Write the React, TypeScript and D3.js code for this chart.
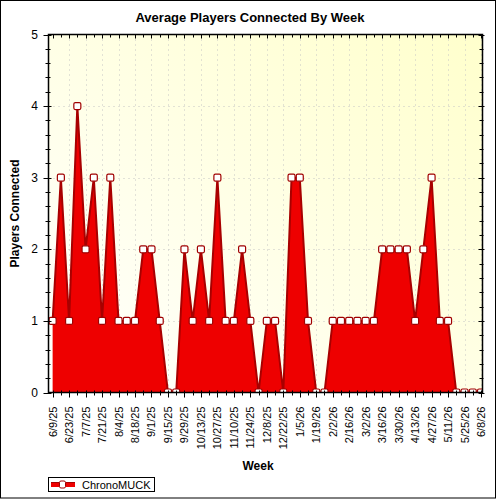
import React from "react";
import * as d3 from "d3";

// Week start dates (one point per week)
const weeks: string[] = [
  "6/9/25", "6/16/25", "6/23/25", "6/30/25", "7/7/25", "7/14/25", "7/21/25", "7/28/25",
  "8/4/25", "8/11/25", "8/18/25", "8/25/25", "9/1/25", "9/8/25", "9/15/25", "9/22/25",
  "9/29/25", "10/6/25", "10/13/25", "10/20/25", "10/27/25", "11/3/25", "11/10/25", "11/17/25",
  "11/24/25", "12/1/25", "12/8/25", "12/15/25", "12/22/25", "12/29/25", "1/5/26", "1/12/26",
  "1/19/26", "1/26/26", "2/2/26", "2/9/26", "2/16/26", "2/23/26", "3/2/26", "3/9/26",
  "3/16/26", "3/23/26", "3/30/26", "4/6/26", "4/13/26", "4/20/26", "4/27/26", "5/4/26",
  "5/11/26", "5/18/26", "5/25/26", "6/1/26", "6/8/26",
];

// Average players connected for each week
const players: number[] = [
  1, 3, 1, 4, 2, 3, 1, 3, 1, 1,
  1, 2, 2, 1, 0, 0, 2, 1, 2, 1,
  3, 1, 1, 2, 1, 0, 1, 1, 0, 3,
  3, 1, 0, 0, 1, 1, 1, 1, 1, 1,
  2, 2, 2, 2, 1, 2, 3, 1, 1, 0,
  0, 0, 0,
];

const yTicks: number[] = [0, 1, 2, 3, 4, 5];
const seriesName = "ChronoMUCK";
const title = "Average Players Connected By Week";
const xTitle = "Week";
const yTitle = "Players Connected";

const W = 500;
const H = 500;
const left = 48.5;
const right = 482.5;
const top = 34.5;
const bottom = 392.5;
const font = "'Liberation Sans', Arial, sans-serif";

export default function App() {
  const x = d3.scaleLinear().domain([-0.5, weeks.length - 1 + 0.18]).range([left, right]);
  const y = d3.scaleLinear().domain([0, 5]).range([bottom, top]);

  const data = players.map((v, i) => ({ i, v }));
  const area = d3
    .area<{ i: number; v: number }>()
    .x((d) => x(d.i))
    .y0(y(0))
    .y1((d) => y(d.v));
  const line = d3
    .line<{ i: number; v: number }>()
    .x((d) => x(d.i))
    .y((d) => y(d.v));

  const minorY = d3.range(0, 5.001, 0.2).filter((v) => Math.abs(v - Math.round(v)) > 1e-6);
  const labeled = weeks.map((w, i) => ({ w, i })).filter((d) => d.i % 2 === 0);

  return (
    <svg
      width={W}
      height={H}
      style={{ position: "absolute", left: 0, top: 0, background: "#fff" }}
      fontFamily={font}
    >
      <defs>
        <linearGradient id="plotBg" x1="0" y1="1" x2="1" y2="0">
          <stop offset="0" stopColor="#ffffff" />
          <stop offset="1" stopColor="#ffffcc" />
        </linearGradient>
        <clipPath id="plotClip">
          <rect x={left} y={top} width={right - left} height={bottom - top} />
        </clipPath>
      </defs>

      <rect x={0.5} y={0.5} width={495} height={497.5} fill="#fff" stroke="#000" />

      <text x={250} y={22} textAnchor="middle" fontSize={13} fontWeight="bold">
        {title}
      </text>

      <rect x={left} y={top} width={right - left} height={bottom - top} fill="url(#plotBg)" />

      {/* dotted grid */}
      <g stroke="#c4c4c4" strokeDasharray="1,4" strokeWidth={1}>
        {yTicks.slice(1, -1).map((t) => (
          <line key={"gy" + t} x1={left} x2={right} y1={Math.round(y(t)) + 0.5} y2={Math.round(y(t)) + 0.5} />
        ))}
        {labeled.slice(1).map((d) => (
          <line key={"gx" + d.i} x1={Math.round(x(d.i)) + 0.5} x2={Math.round(x(d.i)) + 0.5} y1={top} y2={bottom} />
        ))}
      </g>

      <g clipPath="url(#plotClip)">
        <path d={area(data) ?? ""} fill="#ee0000" />
        <path d={line(data) ?? ""} fill="none" stroke="#a80000" strokeWidth={2} strokeLinejoin="miter" />
        {data.map((d) => (
          <rect
            key={"m" + d.i}
            x={x(d.i) - 3.5}
            y={y(d.v) - 3.5}
            width={7}
            height={7}
            rx={1.5}
            fill="#fff"
            stroke="#a00000"
            strokeWidth={1.2}
          />
        ))}
      </g>

      {/* frame */}
      <rect x={left} y={top} width={right - left} height={bottom - top} fill="none" stroke="#000" strokeWidth={1.5} />

      {/* y ticks, left and right */}
      <g stroke="#000" strokeWidth={1}>
        {yTicks.map((t) => (
          <g key={"yt" + t}>
            <line x1={left - 5} x2={left + 3} y1={Math.round(y(t)) + 0.5} y2={Math.round(y(t)) + 0.5} />
            <line x1={right - 4} x2={right + 2} y1={Math.round(y(t)) + 0.5} y2={Math.round(y(t)) + 0.5} />
          </g>
        ))}
        {minorY.map((t) => (
          <g key={"ym" + t}>
            <line x1={left - 3} x2={left + 2} y1={Math.round(y(t)) + 0.5} y2={Math.round(y(t)) + 0.5} />
            <line x1={right - 3} x2={right + 1} y1={Math.round(y(t)) + 0.5} y2={Math.round(y(t)) + 0.5} />
          </g>
        ))}
        {weeks.map((w, i) => {
          const xx = Math.round(x(i)) + 0.5;
          const major = i % 2 === 0;
          return (
            <g key={"xt" + i}>
              <line x1={xx} x2={xx} y1={bottom - 2} y2={bottom + (major ? 5 : 3)} />
              <line x1={xx} x2={xx} y1={top} y2={top + (major ? 4 : 3)} />
            </g>
          );
        })}
      </g>

      {/* y tick labels */}
      {yTicks.map((t) => (
        <text key={"yl" + t} x={38} y={y(t) + 4} textAnchor="end" fontSize={12} fill="#000">
          {t}
        </text>
      ))}

      {/* x tick labels */}
      {labeled.map((d) => (
        <text
          key={"xl" + d.i}
          transform={`translate(${x(d.i) + 4},${bottom + 14}) rotate(-90)`}
          textAnchor="end"
          fontSize={11}
          fill="#000"
        >
          {d.w}
        </text>
      ))}

      <text x={258} y={470} textAnchor="middle" fontSize={12} fontWeight="bold">
        {xTitle}
      </text>
      <text
        transform={`translate(19,${(top + bottom) / 2}) rotate(-90)`}
        textAnchor="middle"
        fontSize={12}
        fontWeight="bold"
      >
        {yTitle}
      </text>

      {/* legend */}
      <g>
        <rect x={48.5} y={477.5} width={106} height={14} fill="#fff" stroke="#000" />
        <rect x={51} y={482} width={24} height={5} fill="#ee0000" />
        <line x1={51} x2={75} y1={482.5} y2={482.5} stroke="#a80000" />
        <rect x={59.5} y={481} width={6} height={7} rx={1.5} fill="#fff" stroke="#a00000" />
        <text x={82} y={488.5} fontSize={11} fill="#000">
          {seriesName}
        </text>
      </g>
    </svg>
  );
}
